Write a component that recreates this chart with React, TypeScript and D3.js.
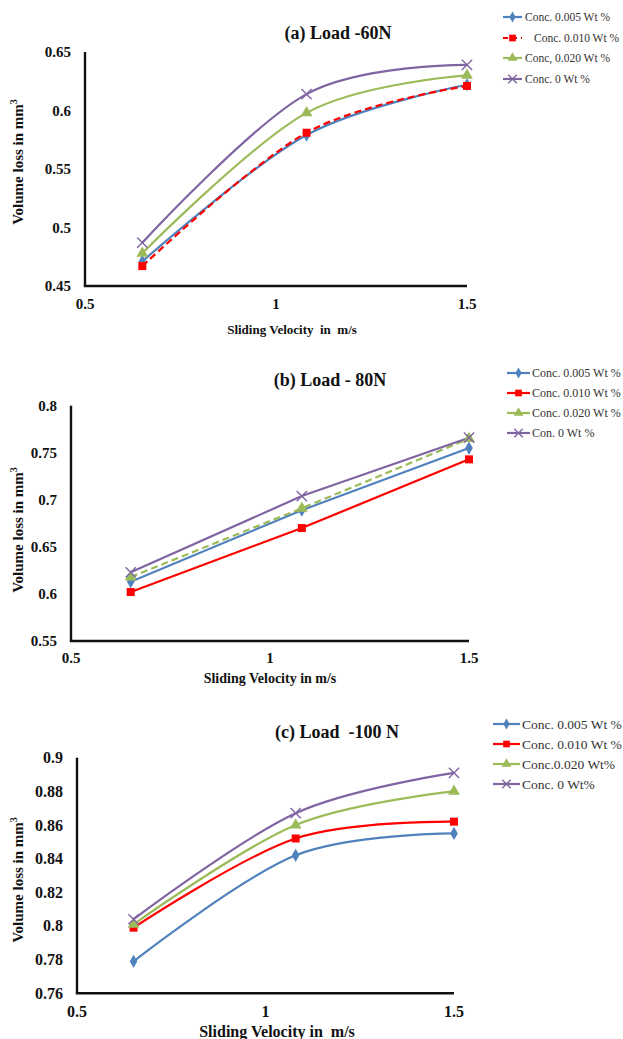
import React from "react";
import * as d3 from "d3";

// ---------- DATA ----------
const velocity = [0.65, 1.08, 1.5];
const xTicks = [0.5, 1, 1.5];

const namesA = ["Conc. 0.005 Wt %", "Conc. 0.010 Wt %", "Conc, 0.020 Wt %", "Conc. 0 Wt %"];
const lossA_005 = [0.471, 0.579, 0.622];
const lossA_010 = [0.467, 0.581, 0.621];
const lossA_020 = [0.478, 0.598, 0.63];
const lossA_0 = [0.487, 0.614, 0.639];
const yTicksA = [0.45, 0.5, 0.55, 0.6, 0.65];

const namesB = ["Conc. 0.005 Wt %", "Conc. 0.010 Wt %", "Conc. 0.020 Wt %", "Con. 0 Wt %"];
const lossB_005 = [0.613, 0.689, 0.755];
const lossB_010 = [0.602, 0.67, 0.743];
const lossB_020 = [0.618, 0.691, 0.765];
const lossB_0 = [0.623, 0.704, 0.766];
const yTicksB = [0.55, 0.6, 0.65, 0.7, 0.75, 0.8];

const namesC = ["Conc. 0.005 Wt %", "Conc. 0.010 Wt %", "Conc.0.020 Wt%", "Conc. 0 Wt%"];
const lossC_005 = [0.779, 0.842, 0.855];
const lossC_010 = [0.799, 0.852, 0.862];
const lossC_020 = [0.801, 0.86, 0.88];
const lossC_0 = [0.804, 0.867, 0.891];
const yTicksC = [0.76, 0.78, 0.8, 0.82, 0.84, 0.86, 0.88, 0.9];

const titles = ["(a) Load -60N", "(b) Load - 80N", "(c) Load  -100 N"];
const xTitles = ["Sliding Velocity  in  m/s", "Sliding Velocity in m/s", "Sliding Velocity in  m/s"];

// ---------- STYLE ----------
const colors = ["#4F81BD", "#FF0000", "#9BBB59", "#8064A2"];
const markers = ["diamond", "square", "triangle", "times"];
const FONT = "'Liberation Serif', 'Times New Roman', serif";

type PanelCfg = {
  title: string;
  xTitle: string;
  names: string[];
  series: number[][];
  yTicks: number[];
  smooth: boolean;
  dashed: number; // index of dashed series
  legendDashed: boolean;
  left: number; right: number; top: number; bottom: number;
  titleX: number; titleY: number; titleSize: number;
  legX: number; legLine: number; legTextX: number[]; legY: number[]; legSize: number;
  yTitleY: number; xTitleX: number; xTitleY: number; xTitleSize: number;
  tickSize: number; xTickY: number;
};

const panels: PanelCfg[] = [
  {
    title: titles[0], xTitle: xTitles[0], names: namesA,
    series: [lossA_005, lossA_010, lossA_020, lossA_0], yTicks: yTicksA,
    smooth: true, dashed: 1, legendDashed: true,
    left: 85, right: 467, top: 52, bottom: 286,
    titleX: 338, titleY: 33, titleSize: 18,
    legX: 503, legLine: 19, legTextX: [525, 534, 525, 525], legY: [17, 38, 58, 79], legSize: 11.5,
    yTitleY: 162, xTitleX: 292, xTitleY: 329, xTitleSize: 13, tickSize: 15, xTickY: 304,
  },
  {
    title: titles[1], xTitle: xTitles[1], names: namesB,
    series: [lossB_005, lossB_010, lossB_020, lossB_0], yTicks: yTicksB,
    smooth: false, dashed: 2, legendDashed: false,
    left: 71, right: 469, top: 405.7, bottom: 641,
    titleX: 330, titleY: 380, titleSize: 18,
    legX: 507, legLine: 23, legTextX: [532, 532, 532, 532], legY: [373, 393, 413, 433], legSize: 12,
    yTitleY: 530, xTitleX: 270, xTitleY: 678, xTitleSize: 14, tickSize: 15, xTickY: 658,
  },
  {
    title: titles[2], xTitle: xTitles[2], names: namesC,
    series: [lossC_005, lossC_010, lossC_020, lossC_0], yTicks: yTicksC,
    smooth: true, dashed: -1, legendDashed: false,
    left: 77, right: 454, top: 757.7, bottom: 993.3,
    titleX: 337, titleY: 732, titleSize: 18,
    legX: 493, legLine: 27, legTextX: [522, 522, 522, 522], legY: [724, 744, 764, 784], legSize: 13.5,
    yTitleY: 880, xTitleX: 277, xTitleY: 1031, xTitleSize: 16, tickSize: 16, xTickY: 1011,
  },
];

function Marker({ kind, x, y, color, scale = 1 }: { kind: string; x: number; y: number; color: string; scale?: number }) {
  if (kind === "times") {
    const p = d3.symbol().type(d3.symbolTimes).size(70 * scale)() as string;
    return <path d={p} transform={`translate(${x},${y})`} fill="none" stroke={color} strokeWidth={1.4} />;
  }
  const type = kind === "diamond" ? d3.symbolDiamond : kind === "square" ? d3.symbolSquare : d3.symbolTriangle;
  const size = (kind === "diamond" ? 50 : kind === "square" ? 64 : 60) * scale;
  const p = d3.symbol().type(type).size(size)() as string;
  return <path d={p} transform={`translate(${x},${y})`} fill={color} stroke="none" />;
}

function Panel({ cfg }: { cfg: PanelCfg }) {
  const x = d3.scaleLinear().domain([xTicks[0], xTicks[xTicks.length - 1]]).range([cfg.left, cfg.right]);
  const y = d3.scaleLinear().domain([cfg.yTicks[0], cfg.yTicks[cfg.yTicks.length - 1]]).range([cfg.bottom, cfg.top]);
  const line = d3
    .line<number>()
    .x((_, i) => x(velocity[i]))
    .y((d) => y(d))
    .curve(cfg.smooth ? d3.curveCatmullRom.alpha(0) : d3.curveLinear);
  const yMid = cfg.yTitleY;
  return (
    <g fontFamily={FONT}>
      <text x={cfg.titleX} y={cfg.titleY} textAnchor="middle" dominantBaseline="central" fontWeight="bold" fontSize={cfg.titleSize} fill="#111" style={{ whiteSpace: "pre" }}>
        {cfg.title}
      </text>
      {/* axes */}
      <line x1={cfg.left} x2={cfg.left} y1={cfg.top} y2={cfg.bottom} stroke="#111" strokeWidth={2.4} />
      <line x1={cfg.left - 1.2} x2={cfg.right} y1={cfg.bottom} y2={cfg.bottom} stroke="#111" strokeWidth={2.4} />
      {cfg.yTicks.map((t) => (
        <text key={t} x={cfg.left - 14} y={y(t)} textAnchor="end" dominantBaseline="central" fontWeight="bold" fontSize={cfg.tickSize} fill="#111">
          {String(t)}
        </text>
      ))}
      {xTicks.map((t) => (
        <text key={t} x={x(t)} y={cfg.xTickY} textAnchor="middle" dominantBaseline="central" fontWeight="bold" fontSize={cfg.tickSize} fill="#111">
          {String(t)}
        </text>
      ))}
      <text x={cfg.xTitleX} y={cfg.xTitleY} textAnchor="middle" dominantBaseline="central" fontWeight="bold" fontSize={cfg.xTitleSize} fill="#111" style={{ whiteSpace: "pre" }}>
        {cfg.xTitle}
      </text>
      <text transform={`translate(18,${yMid}) rotate(-90)`} textAnchor="middle" dominantBaseline="central" fontWeight="bold" fontSize={15} fill="#111">
        Volume loss in mm<tspan dy={-5} fontSize={10}>3</tspan>
      </text>
      {/* series */}
      {cfg.series.map((s, si) => (
        <path key={si} d={line(s) as string} fill="none" stroke={colors[si]} strokeWidth={2.2}
          strokeDasharray={si === cfg.dashed ? "7,4" : undefined} />
      ))}
      {cfg.series.map((s, si) =>
        s.map((v, i) => <Marker key={`${si}-${i}`} kind={markers[si]} x={x(velocity[i])} y={y(v)} color={colors[si]} />)
      )}
      {/* legend */}
      {cfg.names.map((n, i) => {
        const ly = cfg.legY[i];
        const dashed = cfg.legendDashed && i === cfg.dashed;
        return (
          <g key={n}>
            <line x1={cfg.legX} x2={cfg.legX + cfg.legLine} y1={ly} y2={ly} stroke={colors[i]} strokeWidth={2.2}
              strokeDasharray={dashed ? "5,4" : undefined} />
            <Marker kind={markers[i]} x={cfg.legX + cfg.legLine / 2} y={ly} color={colors[i]} scale={0.7} />
            <text x={cfg.legTextX[i]} y={ly} dominantBaseline="central" fontSize={cfg.legSize} fill="#333">
              {n}
            </text>
          </g>
        );
      })}
    </g>
  );
}

export default function App() {
  return (
    <svg width={623} height={1039} style={{ position: "absolute", left: 0, top: 0, background: "#fff" }}>
      <rect width={623} height={1039} fill="#fff" />
      {panels.map((p, i) => (
        <Panel key={i} cfg={p} />
      ))}
    </svg>
  );
}
